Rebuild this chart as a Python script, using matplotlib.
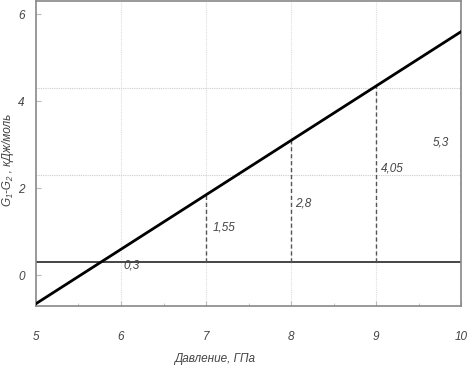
import matplotlib
matplotlib.use("Agg")
import matplotlib.pyplot as plt

# data
pressure = [5, 10]
dG = [-0.65, 5.6]
baseline = 0.3
mark_p = [7, 8, 9, 10]
mark_d = [1.55, 2.8, 4.05, 5.3]
mark_txt = ["1,55", "2,8", "4,05", "5,3"]
xticks = [5, 6, 7, 8, 9, 10]
yticks = [0, 2, 4, 6]

plt.rcParams['font.family'] = ['Liberation Sans', 'DejaVu Sans']
plt.rcParams['font.style'] = 'italic'

fig = plt.figure(figsize=(4.73, 3.73), dpi=100)
ax = fig.add_axes([0.076, 0.18, 0.899, 0.817])

grey = '#555555'
# grid
for x in [6, 7, 8, 9]:
    ax.axvline(x, color='#dddddd', lw=0.8, ls=(0, (1, 1)), zorder=0)
for y in [2.3, 4.3]:
    ax.axhline(y, color='#cccccc', lw=0.8, ls=(0, (1, 1)), zorder=0)

ax.axhline(baseline, color='#444444', lw=1.4, zorder=2)
ax.plot(pressure, dG, color='black', lw=2.0, zorder=3)

for p, d, t in zip(mark_p, mark_d, mark_txt):
    ax.plot([p, p], [baseline, baseline + d], color=grey, lw=1.0,
            ls=(0, (3, 2)), zorder=2)

ax.text(6.03, baseline - 0.08, "0,3", fontsize=8.5, color='#444444',
        ha='left', va='center')
ax.text(7.08, 1.1, mark_txt[0], fontsize=8.5, color='#444444', va='center')
ax.text(8.05, 1.65, mark_txt[1], fontsize=8.5, color='#444444', va='center')
ax.text(9.06, 2.45, mark_txt[2], fontsize=8.5, color='#444444', va='center')
ax.text(9.66, 3.05, mark_txt[3], fontsize=8.5, color='#444444', va='center')

ax.set_xlim(5, 10)
ax.set_ylim(-0.7, 6.3)
ax.set_xticks(xticks)
ax.set_yticks(yticks)
ax.set_xticks([5.5, 6.5, 7.5, 8.5, 9.5], minor=True)
ax.tick_params(axis='both', which='both', direction='in', color='#bbbbbb',
               labelsize=8.5, labelcolor='#444444')
ax.tick_params(axis='x', pad=18)
ax.tick_params(axis='y', pad=8)

for s in ax.spines.values():
    s.set_color('#888888')
    s.set_linewidth(1.2)

ax.set_xlabel("Давление, ГПа", fontsize=8.5, color='#444444')
ax.xaxis.set_label_coords(0.42, -0.155)
ax.set_ylabel("G₁-G₂ , кДж/моль", fontsize=8.5, color='#444444')
ax.yaxis.set_label_coords(-0.052, 0.48)

fig.savefig("out.png", dpi=100)
